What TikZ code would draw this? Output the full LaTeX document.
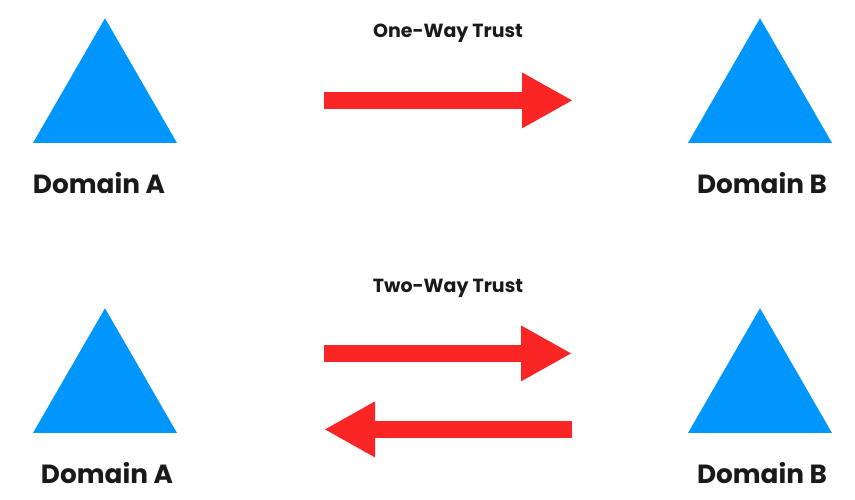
\documentclass[tikz,border=0pt]{standalone}
\usepackage{fontspec}
\setmainfont{Poppins}
\usetikzlibrary{positioning, shapes.geometric, arrows.meta}
\definecolor{domblue}{RGB}{0,150,252}
\definecolor{trustred}{RGB}{250,38,38}
\definecolor{labelgray}{RGB}{26,26,26}

\begin{document}
\begin{tikzpicture}[x=1pt, y=-1pt]
    % Define styles
    \tikzstyle{domtri} = [regular polygon, regular polygon sides=3, minimum size=166.3pt, inner sep=0pt, outer sep=0pt, fill=domblue]
    \tikzstyle{domlabel} = [anchor=base, inner sep=0pt, text=labelgray, font=\fontsize{26.3}{30}\selectfont\bfseries]
    \tikzstyle{trustlabel} = [anchor=base, inner sep=0pt, text=labelgray, font=\fontsize{19}{22}\selectfont\bfseries]
    \tikzstyle{trust} = [-{Triangle[length=51pt, width=52pt]}, line width=17pt, trustred]

    \useasboundingbox (0,0) rectangle (855,499);

    % ONE-WAY
    \node (domA1) [domtri] at (105,101.4) {};
    \node (domB1) [domtri] at (760,101.4) {};
    \node (labA1) [domlabel] at (99,193) {Domain A};
    \node (labB1) [domlabel] at (762,193) {Domain B};
    \node (oneway) [trustlabel] at (448,37) {One-Way Trust};

    % TWO-WAY
    \node (domA2) [domtri] at (105,391.4) {};
    \node (domB2) [domtri] at (760,391.4) {};
    \node (labA2) [domlabel] at (107,483) {Domain A};
    \node (labB2) [domlabel] at (762,483) {Domain B};
    \node (twoway) [trustlabel] at (448,292) {Two-Way Trust};

    % CONNECTIONS
    \draw[trust, shorten <=219pt, shorten >=187pt] ([yshift=1pt]domA1.center) -- ([yshift=1pt]domB1.center);
    \draw[trust, shorten <=219pt, shorten >=188pt] ([yshift=38pt]domA2.center) -- ([yshift=38pt]domB2.center);
    \draw[trust, shorten <=188pt, shorten >=219pt] ([yshift=-38pt]domB2.center) -- ([yshift=-38pt]domA2.center);

\end{tikzpicture}
\end{document}
